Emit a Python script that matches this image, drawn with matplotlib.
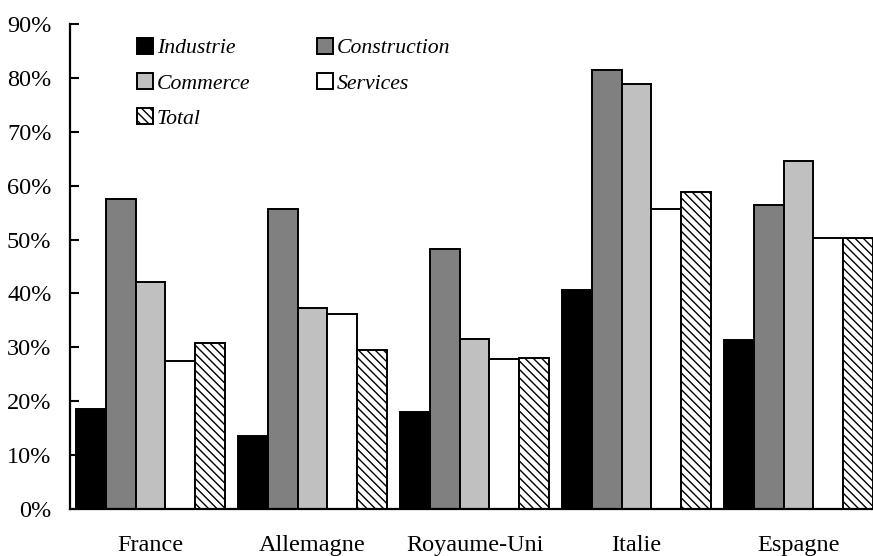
import numpy as np
import matplotlib.pyplot as plt
from matplotlib.ticker import FuncFormatter

plt.rcParams['font.family'] = ['Liberation Serif', 'DejaVu Serif']
plt.rcParams['hatch.linewidth'] = 1.0

pays = ["France", "Allemagne", "Royaume-Uni", "Italie", "Espagne"]
industrie = [18.5, 13.5, 18.0, 40.6, 31.4]
construction = [57.5, 55.7, 48.2, 81.4, 56.4]
commerce = [42.2, 37.3, 31.5, 78.8, 64.6]
services = [27.5, 36.1, 27.8, 55.6, 50.2]
total = [30.8, 29.5, 28.1, 58.9, 50.3]

series = [
    ("Industrie", industrie, "black", None),
    ("Construction", construction, "#808080", None),
    ("Commerce", commerce, "#c0c0c0", None),
    ("Services", services, "white", None),
    ("Total", total, "white", "\\\\\\\\"),
]

fig = plt.figure(figsize=(8.73, 5.56), dpi=100)
W, H = 873, 556
x0, y0, y1 = 69.5, 509, 24
ax = fig.add_axes([x0 / W, (H - y0) / H, 1 - x0 / W, (y0 - y1) / H])

x = np.arange(len(pays))
w = 0.185
handles = {}
for i, (nom, vals, col, hatch) in enumerate(series):
    b = ax.bar(x + (i - 2) * w, vals, w, color=col, edgecolor="black",
               linewidth=1.4, hatch=hatch, label=nom)
    handles[nom] = b

ax.set_xlim(-0.5, -0.5 + (W - x0) / 162.0)
ax.set_ylim(0, 90)
ax.set_yticks(np.arange(0, 91, 10))
ax.yaxis.set_major_formatter(FuncFormatter(lambda v, p: "%d%%" % v))
ax.set_xticks(x)
ax.set_xticklabels(pays)
ax.tick_params(axis="y", direction="in", length=6.5, width=1.5, pad=13, labelsize=17.5)
ax.tick_params(axis="x", length=0, pad=19, labelsize=17.5)
for s in ["top", "right"]:
    ax.spines[s].set_visible(False)
for s in ["left", "bottom"]:
    ax.spines[s].set_linewidth(1.6)

ordre = ["Industrie", "Commerce", "Total", "Construction", "Services"]
leg = fig.legend([handles[n] for n in ordre], ordre, ncol=2, frameon=False,
                 loc="upper left", bbox_to_anchor=(137 / W, 1 - 38 / H),
                 borderpad=0, borderaxespad=0,
                 prop={"style": "italic", "size": 15.7},
                 handlelength=0.72, handleheight=0.72, handletextpad=0.2,
                 columnspacing=3.05, labelspacing=0.68)

fig.savefig("out.png", dpi=100)
